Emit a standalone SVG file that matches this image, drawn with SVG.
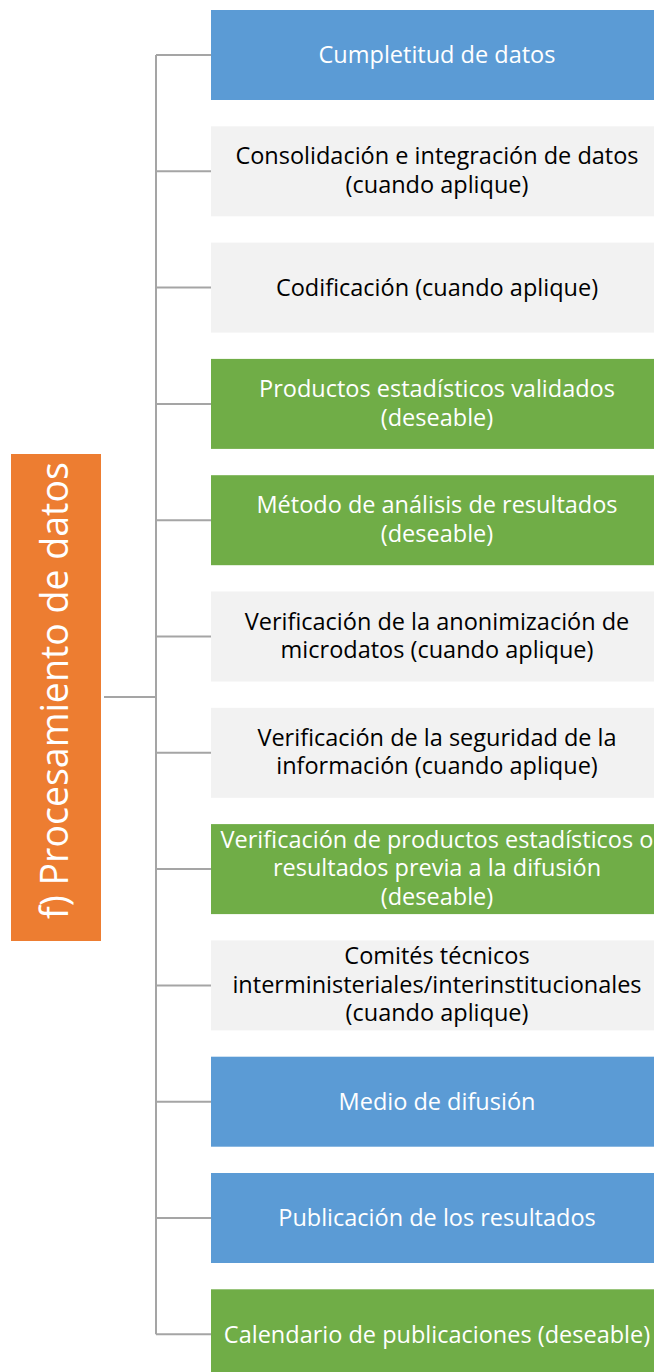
<svg xmlns="http://www.w3.org/2000/svg" width="654" height="1372" viewBox="0 0 654 1372">
<style>
.b{fill:#5b9bd5}.g{fill:#f2f2f2}.v{fill:#70ad47}.o{fill:#ed7d31}
text{font-family:"Open Sans","Liberation Sans",sans-serif;font-size:23.5px;text-anchor:middle}
.w{fill:#ffffff}.k{fill:#000000}
.c{stroke:#a5a5a5;stroke-width:2;fill:none}
</style>
<rect width="654" height="1372" fill="#ffffff"/>
<g id="connectors">
<path class="c" d="M104 697H156M156 55V1334.3M156 55H211M156 171.3H211M156 287.6H211M156 403.9H211M156 520.2H211M156 636.5H211M156 752.8H211M156 869.1H211M156 985.4H211M156 1101.7H211M156 1218H211M156 1334.3H211"/>
</g>
<g id="root"><rect class="o" x="11" y="454" width="90" height="487"/>
<text class="w" transform="translate(68 690.5) rotate(-90)" style="font-size:37.5px">f) Procesamiento de datos</text></g>
<g id="n1"><rect class="b" x="211" y="10" width="452" height="90"/><text class="w" x="437" y="63.3">Cumpletitud de datos</text></g>
<g id="n2"><rect class="g" x="211" y="126.3" width="452" height="90"/><text class="k" x="437" y="164.3">Consolidación e integración de datos</text><text class="k" x="437" y="192.9">(cuando aplique)</text></g>
<g id="n3"><rect class="g" x="211" y="242.6" width="452" height="90"/><text class="k" x="437" y="295.9">Codificación (cuando aplique)</text></g>
<g id="n4"><rect class="v" x="211" y="358.9" width="452" height="90"/><text class="w" x="437" y="396.9">Productos estadísticos validados</text><text class="w" x="437" y="425.5">(deseable)</text></g>
<g id="n5"><rect class="v" x="211" y="475.2" width="452" height="90"/><text class="w" x="437" y="513.2">Método de análisis de resultados</text><text class="w" x="437" y="541.8">(deseable)</text></g>
<g id="n6"><rect class="g" x="211" y="591.5" width="452" height="90"/><text class="k" x="437" y="629.5">Verificación de la anonimización de</text><text class="k" x="437" y="658.1">microdatos (cuando aplique)</text></g>
<g id="n7"><rect class="g" x="211" y="707.8" width="452" height="90"/><text class="k" x="437" y="745.8">Verificación de la seguridad de la</text><text class="k" x="437" y="774.4">información (cuando aplique)</text></g>
<g id="n8"><rect class="v" x="211" y="824.1" width="452" height="90"/><text class="w" x="437" y="847.7">Verificación de productos estadísticos o</text><text class="w" x="437" y="876.4">resultados previa a la difusión</text><text class="w" x="437" y="905.1">(deseable)</text></g>
<g id="n9"><rect class="g" x="211" y="940.4" width="452" height="90"/><text class="k" x="437" y="964">Comités técnicos</text><text class="k" x="437" y="992.7">interministeriales/interinstitucionales</text><text class="k" x="437" y="1021.4">(cuando aplique)</text></g>
<g id="n10"><rect class="b" x="211" y="1056.7" width="452" height="90"/><text class="w" x="437" y="1110">Medio de difusión</text></g>
<g id="n11"><rect class="b" x="211" y="1173" width="452" height="90"/><text class="w" x="437" y="1226.3">Publicación de los resultados</text></g>
<g id="n12"><rect class="v" x="211" y="1289.3" width="452" height="90"/><text class="w" x="437" y="1342.6">Calendario de publicaciones (deseable)</text></g>
</svg>
